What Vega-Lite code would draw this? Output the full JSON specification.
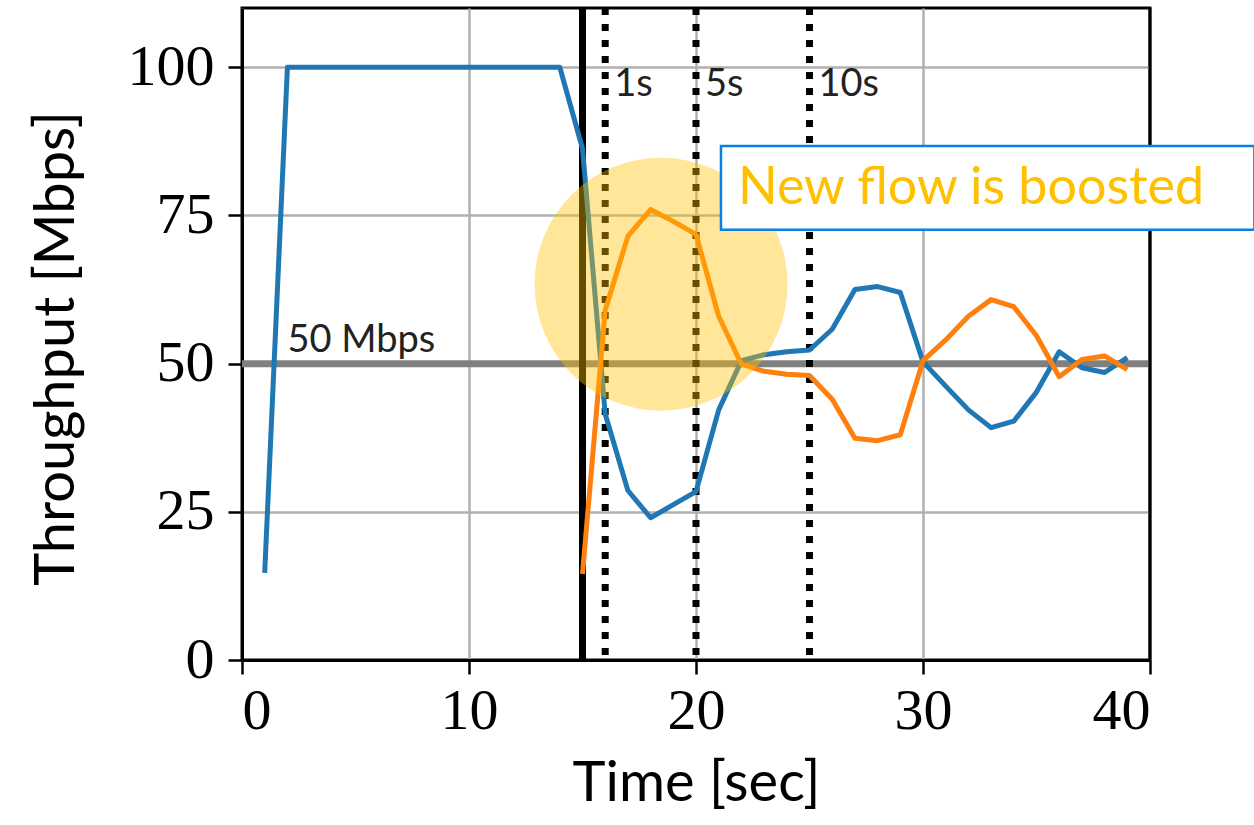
{
  "$schema": "https://vega.github.io/schema/vega-lite/v6.json",
  "width": 908,
  "height": 652,
  "autosize": {"type": "none"},
  "padding": {"left": 242, "top": 8, "right": 104, "bottom": 165},
  "background": "white",
  "config": {
    "view": {"stroke": "black", "strokeWidth": 3},
    "axis": {
      "domainColor": "black",
      "domainWidth": 3,
      "tickColor": "black",
      "tickWidth": 2.5,
      "tickSize": 14,
      "labelFont": "Liberation Serif",
      "labelFontSize": 58,
      "labelColor": "black",
      "gridColor": "#b0b0b0",
      "gridWidth": 2.5,
      "titleFont": "Lato",
      "titleFontSize": 56,
      "titleFontWeight": "normal",
      "titleColor": "black"
    }
  },
  "datasets": {
    "flows": [
      {"t": 1, "flow": "Flow 1", "mbps": 14.7},
      {"t": 2, "flow": "Flow 1", "mbps": 100},
      {"t": 3, "flow": "Flow 1", "mbps": 100},
      {"t": 4, "flow": "Flow 1", "mbps": 100},
      {"t": 5, "flow": "Flow 1", "mbps": 100},
      {"t": 6, "flow": "Flow 1", "mbps": 100},
      {"t": 7, "flow": "Flow 1", "mbps": 100},
      {"t": 8, "flow": "Flow 1", "mbps": 100},
      {"t": 9, "flow": "Flow 1", "mbps": 100},
      {"t": 10, "flow": "Flow 1", "mbps": 100},
      {"t": 11, "flow": "Flow 1", "mbps": 100},
      {"t": 12, "flow": "Flow 1", "mbps": 100},
      {"t": 13, "flow": "Flow 1", "mbps": 100},
      {"t": 14, "flow": "Flow 1", "mbps": 100},
      {"t": 15, "flow": "Flow 1", "mbps": 86.3},
      {"t": 16, "flow": "Flow 1", "mbps": 41.5},
      {"t": 17, "flow": "Flow 1", "mbps": 28.6},
      {"t": 18, "flow": "Flow 1", "mbps": 24.0},
      {"t": 19, "flow": "Flow 1", "mbps": 26.2},
      {"t": 20, "flow": "Flow 1", "mbps": 28.4},
      {"t": 21, "flow": "Flow 1", "mbps": 42.2},
      {"t": 22, "flow": "Flow 1", "mbps": 50.5},
      {"t": 23, "flow": "Flow 1", "mbps": 51.5},
      {"t": 24, "flow": "Flow 1", "mbps": 52.0},
      {"t": 25, "flow": "Flow 1", "mbps": 52.3},
      {"t": 26, "flow": "Flow 1", "mbps": 55.8},
      {"t": 27, "flow": "Flow 1", "mbps": 62.5},
      {"t": 28, "flow": "Flow 1", "mbps": 63.0},
      {"t": 29, "flow": "Flow 1", "mbps": 62.0},
      {"t": 30, "flow": "Flow 1", "mbps": 50.3},
      {"t": 31, "flow": "Flow 1", "mbps": 46.2},
      {"t": 32, "flow": "Flow 1", "mbps": 42.2},
      {"t": 33, "flow": "Flow 1", "mbps": 39.2},
      {"t": 34, "flow": "Flow 1", "mbps": 40.3},
      {"t": 35, "flow": "Flow 1", "mbps": 45.2},
      {"t": 36, "flow": "Flow 1", "mbps": 52.0},
      {"t": 37, "flow": "Flow 1", "mbps": 49.3},
      {"t": 38, "flow": "Flow 1", "mbps": 48.5},
      {"t": 39, "flow": "Flow 1", "mbps": 51.0},
      {"t": 15, "flow": "Flow 2", "mbps": 14.5},
      {"t": 16, "flow": "Flow 2", "mbps": 59.0},
      {"t": 17, "flow": "Flow 2", "mbps": 71.5},
      {"t": 18, "flow": "Flow 2", "mbps": 76.0},
      {"t": 19, "flow": "Flow 2", "mbps": 74.0},
      {"t": 20, "flow": "Flow 2", "mbps": 71.8},
      {"t": 21, "flow": "Flow 2", "mbps": 58.0},
      {"t": 22, "flow": "Flow 2", "mbps": 49.9},
      {"t": 23, "flow": "Flow 2", "mbps": 48.7},
      {"t": 24, "flow": "Flow 2", "mbps": 48.2},
      {"t": 25, "flow": "Flow 2", "mbps": 48.0},
      {"t": 26, "flow": "Flow 2", "mbps": 44.0},
      {"t": 27, "flow": "Flow 2", "mbps": 37.4},
      {"t": 28, "flow": "Flow 2", "mbps": 37.0},
      {"t": 29, "flow": "Flow 2", "mbps": 38.0},
      {"t": 30, "flow": "Flow 2", "mbps": 50.5},
      {"t": 31, "flow": "Flow 2", "mbps": 54.0},
      {"t": 32, "flow": "Flow 2", "mbps": 58.0},
      {"t": 33, "flow": "Flow 2", "mbps": 60.8},
      {"t": 34, "flow": "Flow 2", "mbps": 59.6},
      {"t": 35, "flow": "Flow 2", "mbps": 54.7},
      {"t": 36, "flow": "Flow 2", "mbps": 47.8},
      {"t": 37, "flow": "Flow 2", "mbps": 50.7},
      {"t": 38, "flow": "Flow 2", "mbps": 51.3},
      {"t": 39, "flow": "Flow 2", "mbps": 49.0}
    ],
    "events": [
      {"t": 16, "label": "1s", "ly": 95.2},
      {"t": 20, "label": "5s", "ly": 95.2},
      {"t": 25, "label": "10s", "ly": 95.2}
    ]
  },
  "layer": [
    {
      "data": {"values": [{"ref": 50, "label": "50 Mbps", "lx": 2.0, "ly": 52.0}]},
      "mark": {"type": "rule", "color": "#808080", "strokeWidth": 7},
      "encoding": {
        "y": {
          "field": "ref",
          "type": "quantitative",
          "scale": {"domain": [0, 110], "nice": false, "zero": false},
          "axis": {
            "values": [0, 25, 50, 75, 100],
            "title": "Throughput [Mbps]",
            "labelPadding": 14,
            "titlePadding": 42,
            "titleY": 340
          }
        }
      }
    },
    {
      "data": {"values": [{"ref": 50, "label": "50 Mbps", "lx": 2.0, "ly": 52.0}]},
      "mark": {"type": "text", "font": "Lato", "fontSize": 38, "align": "left", "baseline": "alphabetic", "color": "#222222"},
      "encoding": {
        "x": {"field": "lx", "type": "quantitative"},
        "y": {"field": "ly", "type": "quantitative"},
        "text": {"field": "label"}
      }
    },
    {
      "data": {"values": [{"t": 15}]},
      "mark": {"type": "rule", "color": "black", "strokeWidth": 7},
      "encoding": {
        "x": {
          "field": "t",
          "type": "quantitative",
          "scale": {"domain": [0, 40], "nice": false, "zero": false},
          "axis": {
            "values": [0, 10, 20, 30, 40],
            "title": "Time [sec]",
            "labelPadding": 8,
            "titlePadding": 16
          }
        }
      }
    },
    {
      "data": {"values": [{"t": 40}]},
      "mark": {"type": "rule", "color": "black", "strokeWidth": 3},
      "encoding": {"x": {"field": "t", "type": "quantitative"}}
    },
    {
      "data": {"name": "events"},
      "mark": {"type": "rule", "color": "black", "strokeWidth": 7, "strokeDash": [7, 9]},
      "encoding": {"x": {"field": "t", "type": "quantitative"}}
    },
    {
      "data": {"name": "events"},
      "mark": {"type": "text", "font": "Lato", "fontSize": 38, "align": "left", "baseline": "alphabetic", "dx": 9, "color": "#222222"},
      "encoding": {
        "x": {"field": "t", "type": "quantitative"},
        "y": {"field": "ly", "type": "quantitative"},
        "text": {"field": "label"}
      }
    },
    {
      "data": {"name": "flows"},
      "mark": {"type": "line", "strokeWidth": 5, "strokeJoin": "round"},
      "encoding": {
        "x": {"field": "t", "type": "quantitative"},
        "y": {"field": "mbps", "type": "quantitative"},
        "color": {
          "field": "flow",
          "type": "nominal",
          "scale": {"domain": ["Flow 1", "Flow 2"], "range": ["#1f77b4", "#ff7f0e"]},
          "legend": null
        }
      }
    },
    {
      "data": {"values": [{"cx": 18.46, "cy": 63.4}]},
      "mark": {"type": "point", "shape": "circle", "filled": true, "size": 64000, "color": "#FFC000", "opacity": 0.4, "strokeWidth": 0},
      "encoding": {
        "x": {"field": "cx", "type": "quantitative"},
        "y": {"field": "cy", "type": "quantitative"}
      }
    },
    {
      "data": {"values": [{"x1": 21.1, "x2": 44.6, "y1": 86.7, "y2": 72.6, "note": "New flow is boosted", "tx": 21.85, "ty": 76.9}]},
      "mark": {"type": "rect", "fill": "white", "stroke": "#0A80E6", "strokeWidth": 2.5},
      "encoding": {
        "x": {"field": "x1", "type": "quantitative"},
        "x2": {"field": "x2"},
        "y": {"field": "y1", "type": "quantitative"},
        "y2": {"field": "y2"}
      }
    },
    {
      "data": {"values": [{"x1": 21.1, "x2": 44.6, "y1": 86.7, "y2": 72.6, "note": "New flow is boosted", "tx": 21.85, "ty": 76.9}]},
      "mark": {"type": "text", "font": "Lato", "fontSize": 52, "align": "left", "baseline": "alphabetic", "color": "#FFC000"},
      "encoding": {
        "x": {"field": "tx", "type": "quantitative"},
        "y": {"field": "ty", "type": "quantitative"},
        "text": {"field": "note"}
      }
    }
  ]
}
